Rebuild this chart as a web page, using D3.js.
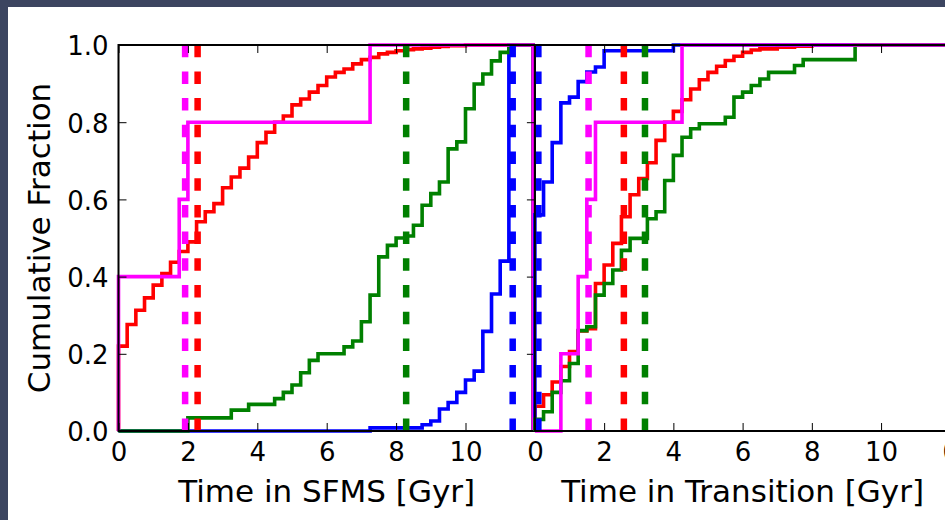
<!DOCTYPE html>
<html>
<head>
<meta charset="utf-8">
<script src="https://cdn.jsdelivr.net/npm/d3@7"></script>
<style>
  html, body { margin: 0; overflow: hidden; background: #ffffff; }
  svg { display: block; font-family: "DejaVu Sans", sans-serif; }
</style>
</head>
<body>
<svg id="chart" width="945" height="520"></svg>
<script>
// ---- data ----
const yTicks = [0, 0.2, 0.4, 0.6, 0.8, 1.0];
const sfmsTicks = [0, 2, 4, 6, 8, 10];
const transTicks = [0, 2, 4, 6, 8, 10];
const nextPanelTicks = [0];

const seriesNames = ["red", "blue", "green", "magenta"];

// cumulative step histograms: [left bin edge, cumulative fraction]
const sfmsRed = [[0, 0.22], [0.25, 0.276], [0.5, 0.313], [0.75, 0.345], [1.0, 0.378], [1.25, 0.408],
  [1.5, 0.437], [1.75, 0.465], [2.0, 0.49], [2.25, 0.542], [2.5, 0.568], [2.75, 0.589], [3.0, 0.63],
  [3.25, 0.658], [3.5, 0.681], [3.75, 0.71], [4.0, 0.747], [4.25, 0.774], [4.5, 0.80], [4.75, 0.816],
  [5.0, 0.845], [5.25, 0.86], [5.5, 0.878], [5.75, 0.895], [6.0, 0.917], [6.25, 0.929], [6.5, 0.938],
  [6.75, 0.951], [7.0, 0.962], [7.25, 0.968], [7.5, 0.977], [7.75, 0.981], [8.0, 0.985], [8.25, 0.988],
  [8.5, 0.99], [8.75, 0.992], [9.0, 0.994], [9.25, 0.996], [9.5, 0.998], [10.0, 1.0]];
const sfmsBlue = [[0, 0], [7.25, 0.008], [8.75, 0.016], [9.0, 0.026], [9.25, 0.057], [9.5, 0.074],
  [9.75, 0.10], [10.0, 0.132], [10.25, 0.155], [10.5, 0.258], [10.75, 0.355], [11.0, 0.44], [11.25, 1.0]];
const sfmsGreen = [[0, 0], [2.0, 0.034], [3.25, 0.054], [3.75, 0.069], [4.5, 0.084], [4.75, 0.10],
  [5.0, 0.119], [5.25, 0.151], [5.5, 0.183], [5.75, 0.20], [6.5, 0.218], [6.75, 0.233], [7.0, 0.283],
  [7.25, 0.352], [7.5, 0.451], [7.75, 0.481], [8.0, 0.50], [8.25, 0.505], [8.5, 0.533], [8.75, 0.585],
  [9.0, 0.615], [9.25, 0.645], [9.5, 0.731], [9.75, 0.749], [10.0, 0.835], [10.25, 0.899], [10.5, 0.925],
  [10.75, 0.959], [11.0, 0.981], [11.25, 1.0]];
const sfmsMagenta = [[0, 0.4], [1.75, 0.6], [2.0, 0.8], [7.25, 1.0]];
const sfmsLastEdge = 11.95;
const sfmsMedian = [2.28, 11.36, 8.29, 1.92];

const transRed = [[0, 0.064], [0.25, 0.094], [0.5, 0.127], [0.75, 0.167], [1.0, 0.206], [1.25, 0.259],
  [1.5, 0.265], [1.75, 0.382], [2.0, 0.43], [2.25, 0.486], [2.5, 0.555], [2.75, 0.612], [3.0, 0.654],
  [3.25, 0.695], [3.5, 0.753], [3.75, 0.80], [4.0, 0.828], [4.25, 0.858], [4.5, 0.886], [4.75, 0.91],
  [5.0, 0.929], [5.25, 0.945], [5.5, 0.96], [5.75, 0.971], [6.0, 0.981], [6.25, 0.987], [6.5, 0.99],
  [7.0, 0.994], [7.5, 0.997], [8.0, 1.0]];
const transBlue = [[0, 0.56], [0.25, 0.645], [0.5, 0.747], [0.75, 0.85], [1.0, 0.865], [1.25, 0.905],
  [1.5, 0.93], [1.75, 0.943], [2.0, 0.985], [4.0, 1.0]];
const transGreen = [[0, 0.03], [0.25, 0.05], [0.5, 0.10], [0.75, 0.13], [1.0, 0.175], [1.25, 0.26],
  [1.5, 0.27], [1.75, 0.352], [2.0, 0.382], [2.25, 0.417], [2.5, 0.468], [2.75, 0.499], [3.25, 0.55],
  [3.5, 0.568], [3.75, 0.649], [4.0, 0.714], [4.25, 0.761], [4.5, 0.783], [4.75, 0.796], [5.5, 0.813],
  [5.75, 0.865], [6.0, 0.878], [6.25, 0.895], [6.5, 0.912], [6.75, 0.929], [7.5, 0.947], [7.75, 0.962],
  [9.25, 1.0]];
const transMagenta = [[0, 0], [0.75, 0.2], [1.25, 0.4], [1.5, 0.6], [1.75, 0.8], [4.25, 1.0]];
const transLastEdge = 12.0;
const transMedian = [2.57, 0.1, 3.18, 1.55];

// ---- drawing ----
var color = d3.scaleOrdinal()
    .domain(seriesNames)
    .range(["#ff0000", "#0000ff", "#008000", "#ff00ff"]);

var svg = d3.select("#chart");

// dark frame only along the top and left edges
svg.append("rect").attr("width", 945).attr("height", 520).attr("fill", "#3c4560");
svg.append("rect").attr("x", 8).attr("y", 7).attr("width", 1000).attr("height", 600).attr("fill", "#ffffff");

var plotTop = 45, plotBottom = 431;
var yScale = d3.scaleLinear().domain([0, 1]).range([plotBottom, plotTop]);

var stepLine = function(xScale) {
    return d3.line()
        .x(function(d) { return xScale(d[0]); })
        .y(function(d) { return yScale(d[1]); })
        .curve(d3.curveStepAfter);
};

function drawPanel(xScale, series, lastEdge, medians, ticks, label, showY) {
    var g = svg.append("g");
    var x0 = xScale.range()[0], x1 = xScale.range()[1];

    // solid cumulative histograms
    series.forEach(function(s, i) {
        var pts = [[s[0][0], 0]].concat(s, [[lastEdge, s[s.length - 1][1]], [lastEdge, 0]]);
        g.append("path")
            .attr("d", stepLine(xScale)(pts))
            .attr("fill", "none")
            .attr("stroke", color(seriesNames[i]))
            .attr("stroke-width", 3.6);
    });

    // median lines, dashed
    medians.forEach(function(m, i) {
        g.append("line")
            .attr("x1", xScale(m)).attr("x2", xScale(m))
            .attr("y1", yScale(0)).attr("y2", yScale(1))
            .attr("stroke", color(seriesNames[i]))
            .attr("stroke-width", 6.5)
            .attr("stroke-dasharray", "12.5,14.2");
    });

    // axes, ticks inward
    g.append("g")
        .attr("transform", `translate(0,${plotBottom})`)
        .call(d3.axisBottom(xScale).tickValues(ticks).tickSize(-8).tickPadding(12).tickFormat(d3.format("d")));
    g.append("g")
        .attr("transform", `translate(0,${plotTop})`)
        .call(d3.axisTop(xScale).tickValues(ticks).tickSize(-8).tickFormat(""));
    if (showY) {
        var yl = g.append("g")
            .attr("transform", `translate(${x0},0)`)
            .call(d3.axisLeft(yScale).tickValues(yTicks).tickSize(-8).tickPadding(10).tickFormat(d3.format(".1f")));
        yl.selectAll("text").attr("dy", "0.38em");
        g.append("g")
            .attr("transform", `translate(${x1},0)`)
            .call(d3.axisRight(yScale).tickValues(yTicks).tickSize(-8).tickFormat(""));
    }
    g.selectAll(".domain").remove();
    g.selectAll(".tick line").attr("stroke", "#000").attr("stroke-width", 1);
    g.selectAll(".tick text").attr("font-size", 26).attr("fill", "#000").attr("font-family", "DejaVu Sans");

    // spines
    g.append("rect")
        .attr("x", x0).attr("y", plotTop)
        .attr("width", x1 - x0).attr("height", plotBottom - plotTop)
        .attr("fill", "none")
        .attr("stroke", "#000")
        .attr("stroke-width", 2);

    g.append("text")
        .attr("x", (x0 + x1) / 2)
        .attr("y", 502)
        .attr("text-anchor", "middle")
        .attr("font-size", 31)
        .text(label);
}

var xSfms = d3.scaleLinear().domain([0, 12]).range([118.5, 534.9]);
var xTrans = d3.scaleLinear().domain([0, 12]).range([534.9, 950.3]);
var xNext = d3.scaleLinear().domain([0, 12]).range([950.3, 1366]);

drawPanel(xSfms, [sfmsRed, sfmsBlue, sfmsGreen, sfmsMagenta], sfmsLastEdge, sfmsMedian,
    sfmsTicks, "Time in SFMS [Gyr]", true);
drawPanel(xTrans, [transRed, transBlue, transGreen, transMagenta], transLastEdge, transMedian,
    transTicks, "Time in Transition [Gyr]", false);

// first tick label of the next panel, cut by the frame as in the source
svg.append("g")
    .attr("transform", `translate(0,${plotBottom})`)
    .call(d3.axisBottom(xNext).tickValues(nextPanelTicks).tickSize(0).tickPadding(12).tickFormat(d3.format("d")))
    .call(function(a) { a.select(".domain").remove(); })
    .selectAll("text").attr("font-size", 26).attr("fill", "#000").attr("font-family", "DejaVu Sans");

svg.append("text")
    .attr("transform", `translate(50,${(plotTop + plotBottom) / 2}) rotate(-90)`)
    .attr("text-anchor", "middle")
    .attr("font-size", 31)
    .text("Cumulative Fraction");
</script>
</body>
</html>
